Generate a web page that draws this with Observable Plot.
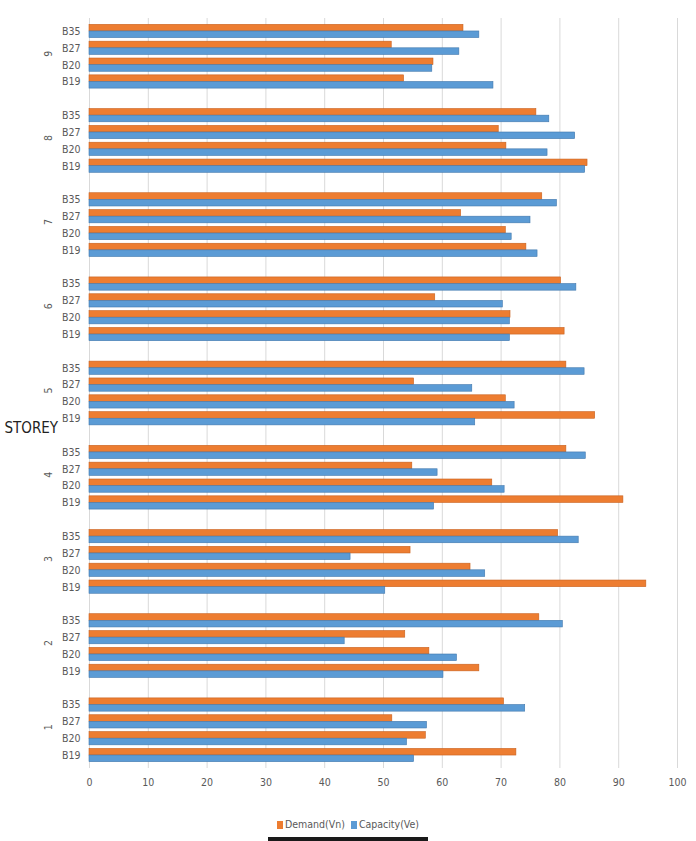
<!DOCTYPE html>
<html>
<head>
<meta charset="utf-8">
<script src="https://cdn.jsdelivr.net/npm/d3@7"></script>
<script src="https://cdn.jsdelivr.net/npm/@observablehq/plot@0.6"></script>
<style>
  html, body { margin: 0; padding: 0; background: #fff; }
  #wrap { position: relative; width: 696px; height: 841px; overflow: hidden; font-family: "DejaVu Sans Condensed", "DejaVu Sans", sans-serif; font-stretch: condensed; }
  #chart svg text { font-stretch: condensed; }
  #legend { position: absolute; top: 818px; left: 0; width: 696px; text-align: center; font-size: 10.5px; color: #595959; }
  #legend span.sw { display: inline-block; width: 6px; height: 8px; margin-right: 2px; vertical-align: -1px; }
  #legend span.item { margin: 0 3px; }
  #blackbar { position: absolute; left: 268px; top: 837px; width: 160px; height: 4px; background: #1a1a1a; }
</style>
</head>
<body>
<div id="wrap">
  <div id="chart"></div>
  <div id="legend"></div>
  <div id="blackbar"></div>
</div>
<script>
const storeys = [1, 2, 3, 4, 5, 6, 7, 8, 9];
const buildings = ["B19", "B20", "B27", "B35"];
const seriesNames = ["Demand(Vn)", "Capacity(Ve)"];
const xTicks = [0, 10, 20, 30, 40, 50, 60, 70, 80, 90, 100];
// rows: storey 1..9, columns: B19, B20, B27, B35
const demand = [
  [72.6, 57.2, 51.5, 70.5],
  [66.3, 57.8, 53.7, 76.5],
  [94.7, 64.8, 54.6, 79.7],
  [90.8, 68.5, 54.9, 81.1],
  [86.0, 70.8, 55.2, 81.1],
  [80.8, 71.6, 58.8, 80.2],
  [74.3, 70.8, 63.2, 77.0],
  [84.7, 70.9, 69.6, 76.0],
  [53.5, 58.5, 51.4, 63.6]
];
const capacity = [
  [55.2, 54.0, 57.4, 74.1],
  [60.2, 62.5, 43.4, 80.5],
  [50.3, 67.3, 44.4, 83.2],
  [58.6, 70.6, 59.2, 84.4],
  [65.6, 72.3, 65.1, 84.2],
  [71.5, 71.5, 70.3, 82.8],
  [76.2, 71.8, 75.0, 79.5],
  [84.3, 77.9, 82.6, 78.2],
  [68.7, 58.3, 62.9, 66.3]
];

const orange = "#ED7D31", blue = "#5B9BD5";

const yDomain = [];
const storeysTopDown = storeys.slice().reverse();
const buildingsTopDown = buildings.slice().reverse();
storeysTopDown.forEach((s, i) => {
  buildingsTopDown.forEach(b => yDomain.push(s + "|" + b));
  if (i < storeysTopDown.length - 1) yDomain.push(s + "|gap");
});

const rows = [];
storeys.forEach((s, i) => {
  buildings.forEach((b, j) => {
    rows.push({key: s + "|" + b, storey: s, building: b, demand: demand[i][j], capacity: capacity[i][j]});
  });
});

const height = 798, marginTop = 18, marginBottom = 30, padOuter = 0.27;
const step = (height - marginTop - marginBottom) / (yDomain.length + 2 * padOuter);
const half = step / 2;
const edge = 1.8;

const chart = Plot.plot({
  width: 696,
  height,
  marginLeft: 89,
  marginRight: 19,
  marginTop,
  marginBottom,
  style: {fontFamily: '"DejaVu Sans Condensed", "DejaVu Sans", sans-serif', fontSize: "11px", color: "#595959", background: "#fff"},
  x: {domain: [0, 100]},
  y: {domain: yDomain, type: "band", paddingInner: 0, paddingOuter: padOuter},
  marks: [
    Plot.gridX({ticks: xTicks, stroke: "#D9D9D9", strokeOpacity: 1}),
    Plot.barX(rows, {x: "demand", y: "key", fill: orange, stroke: "#C8611E", strokeWidth: 0.6, insetTop: edge, insetBottom: half}),
    Plot.barX(rows, {x: "capacity", y: "key", fill: blue, stroke: "#4178AD", strokeWidth: 0.6, insetTop: half, insetBottom: edge}),
    Plot.axisX({ticks: xTicks, tickSize: 0, tickPadding: 10, fill: "#595959", fontSize: 10.5, label: null}),
    Plot.axisY({tickSize: 0, tickPadding: 9, fill: "#595959", fontSize: 10.5, label: null,
      tickFormat: d => d.endsWith("gap") ? "" : d.split("|")[1]}),
    Plot.text(storeys, {y: d => d + "|B27", dy: half, frameAnchor: "left", dx: -41, rotate: -90, text: d => String(d), fill: "#595959", fontSize: 10.5}),
    Plot.text(["STOREY"], {frameAnchor: "left", dx: -85, dy: 35, textAnchor: "start", text: d => d, fill: "#222", fontSize: 15})
  ]
});
document.getElementById("chart").appendChild(chart);

const legend = document.getElementById("legend");
legend.innerHTML = seriesNames.map((n, i) =>
  `<span class="item"><span class="sw" style="background:${i === 0 ? orange : blue}"></span>${n}</span>`).join("");
</script>
</body>
</html>
